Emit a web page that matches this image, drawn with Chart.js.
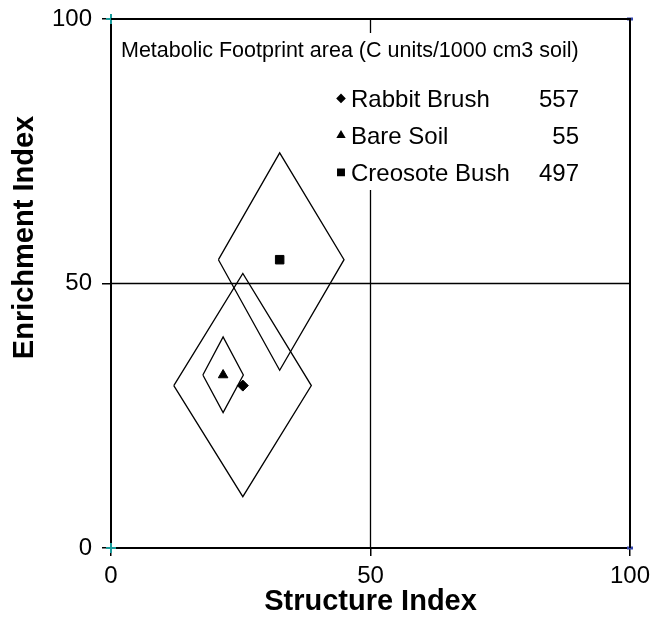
<!DOCTYPE html>
<html><head><meta charset="utf-8">
<script src="https://cdn.jsdelivr.net/npm/chart.js@4.4.0/dist/chart.umd.min.js"></script>
<style>html,body{margin:0;padding:0;background:#fff}#wrap{width:652px;height:627px}</style>
</head><body><div id="wrap"><canvas id="c" width="652" height="627"></canvas></div>
<script>
// ---- data ----
const sites = ['Rabbit Brush', 'Bare Soil', 'Creosote Bush'];
const footprintArea = [557, 55, 497];
const structureMean = [25.4, 21.6, 32.5];
const enrichmentMean = [30.7, 32.7, 54.5];
const structureMin = [12.1, 17.7, 20.7];
const structureMax = [38.6, 25.5, 44.9];
const enrichmentMin = [9.7, 25.6, 33.6];
const enrichmentMax = [51.9, 39.9, 74.7];
const markerStyles = ['rectRot', 'triangle', 'rect'];
const axisTicks = [0, 50, 100];
const quadrantSplit = 50;
const footprintTitle = 'Metabolic Footprint area (C units/1000 cm3 soil)';

const FONT = '"Liberation Sans", Arial, sans-serif';

const datasets = [];
// mean markers
sites.forEach((s, i) => {
  datasets.push({
    label: s,
    data: [{x: structureMean[i], y: enrichmentMean[i]}],
    pointStyle: markerStyles[i],
    pointRadius: markerStyles[i] === 'rect' ? 6 : 5.5,
    backgroundColor: '#000', borderColor: '#000', borderWidth: 1,
    showLine: false
  });
});
// metabolic footprint diamonds
sites.forEach((s, i) => {
  datasets.push({
    label: s + ' footprint',
    data: [
      {x: structureMin[i], y: enrichmentMean[i]},
      {x: structureMean[i], y: enrichmentMax[i]},
      {x: structureMax[i], y: enrichmentMean[i]},
      {x: structureMean[i], y: enrichmentMin[i]},
      {x: structureMin[i], y: enrichmentMean[i]}
    ],
    showLine: true, pointRadius: 0, borderColor: '#000', borderWidth: 1.3,
    fill: false, tension: 0
  });
});
// quadrant lines
datasets.push({
  label: 'h', data: [{x: axisTicks[0], y: quadrantSplit}, {x: axisTicks[2], y: quadrantSplit}],
  showLine: true, pointRadius: 0, borderColor: '#000', borderWidth: 1.3
});
datasets.push({
  label: 'v', data: [{x: quadrantSplit, y: axisTicks[0]}, {x: quadrantSplit, y: axisTicks[2]}],
  showLine: true, pointRadius: 0, borderColor: '#000', borderWidth: 1.3
});
// corner markers
datasets.push({
  label: 'c1', data: [{x: axisTicks[0], y: axisTicks[0]}, {x: axisTicks[0], y: axisTicks[2]}],
  showLine: false, pointStyle: 'cross', pointRadius: 5, borderColor: '#1a9c9c', borderWidth: 2, clip: false
});
datasets.push({
  label: 'c2', data: [{x: axisTicks[2], y: axisTicks[0]}, {x: axisTicks[2], y: axisTicks[2]}],
  showLine: false, pointStyle: 'line', pointRadius: 3, borderColor: '#3344aa', borderWidth: 3, clip: false
});

const decor = {
  id: 'decor',
  afterDatasetsDraw(chart) {
    const ctx = chart.ctx, a = chart.chartArea;
    ctx.save();
    // white text box hiding part of vertical line
    ctx.fillStyle = '#fff';
    ctx.fillRect(330, 33, 270, 157);
    // top & right frame
    ctx.strokeStyle = '#000'; ctx.lineWidth = 2;
    ctx.beginPath();
    ctx.moveTo(a.left, a.top); ctx.lineTo(a.right, a.top); ctx.lineTo(a.right, a.bottom);
    ctx.stroke();
    // footprint title
    ctx.fillStyle = '#000';
    ctx.font = '21.5px ' + FONT;
    ctx.textAlign = 'left'; ctx.textBaseline = 'alphabetic';
    ctx.fillText(footprintTitle, 121, 56.5);
    // legend
    const baselines = [107, 144, 181];
    ctx.font = '24px ' + FONT;
    sites.forEach((s, i) => {
      const yb = baselines[i];
      ctx.fillStyle = '#000'; ctx.strokeStyle = '#000';
      Chart.helpers.drawPoint(ctx, {pointStyle: markerStyles[i], rotation: 0,
        radius: markerStyles[i] === 'rect' ? 4.2 : 3.4, borderWidth: 1}, 341, yb - 8.6);
      ctx.fillStyle = '#000';
      ctx.textAlign = 'left';
      ctx.fillText(s, 351, yb);
      ctx.textAlign = 'right';
      ctx.fillText(String(footprintArea[i]), 579, yb);
    });
    // y axis title
    ctx.font = 'bold 29px ' + FONT;
    ctx.translate(33, 237.5);
    ctx.rotate(-Math.PI / 2);
    ctx.textAlign = 'center'; ctx.textBaseline = 'alphabetic';
    ctx.fillText('Enrichment Index', 0, 0);
    ctx.restore();
  }
};

function noPad(s) { s.paddingTop = 0; s.paddingBottom = 0; s.paddingLeft = 0; s.paddingRight = 0; }

new Chart(document.getElementById('c'), {
  type: 'scatter',
  data: {datasets},
  options: {
    responsive: false, animation: false, devicePixelRatio: 1,
    layout: {autoPadding: false, padding: {top: 19, right: 22, left: 0, bottom: 0}},
    plugins: {legend: {display: false}, tooltip: {enabled: false}},
    scales: {
      x: {
        type: 'linear', min: axisTicks[0], max: axisTicks[2],
        afterBuildTicks: s => { s.ticks = axisTicks.map(v => ({value: v})); },
        afterFit: s => { s.height = 79; noPad(s); },
        ticks: {font: {size: 24, family: FONT}, color: '#000', padding: 6, maxRotation: 0},
        grid: {display: true, drawOnChartArea: false, drawTicks: true, tickLength: 8, color: '#000', lineWidth: 1.5},
        border: {display: true, color: '#000', width: 2},
        title: {display: true, text: 'Structure Index', color: '#000',
          font: {size: 29, weight: 'bold', family: FONT}, padding: {top: 0, bottom: 8}}
      },
      y: {
        type: 'linear', min: axisTicks[0], max: axisTicks[2],
        afterBuildTicks: s => { s.ticks = axisTicks.map(v => ({value: v})); },
        afterFit: s => { s.width = 111; noPad(s); },
        ticks: {font: {size: 24, family: FONT}, color: '#000', padding: 10},
        grid: {display: true, drawOnChartArea: false, drawTicks: true, tickLength: 9, color: '#000', lineWidth: 1.5},
        border: {display: true, color: '#000', width: 2}
      }
    }
  },
  plugins: [decor]
});
</script></body></html>
